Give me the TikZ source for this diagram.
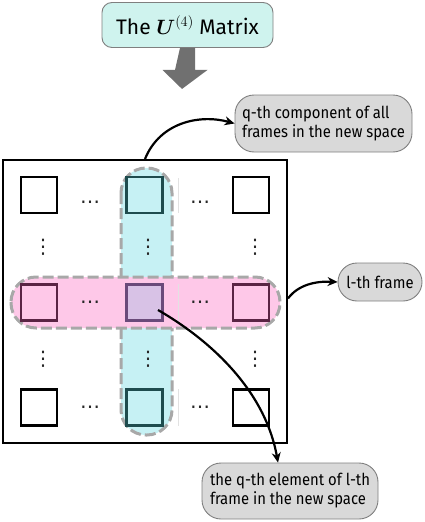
\documentclass[tikz,border=0pt]{standalone}
\usepackage{amsmath,bm}
\usepackage{fontspec}
\setmainfont{Fira Sans}[FakeStretch=0.9]
\newfontfamily\titlefont{Fira Sans}
\newfontfamily\dotsfont{DejaVu Sans}
\usetikzlibrary{calc,arrows.meta}
\definecolor{titlefill}{HTML}{CFF3EE}
\definecolor{cyanband}{HTML}{C6F1F4}
\definecolor{pinkband}{HTML}{FEC8E8}
\definecolor{lavender}{HTML}{D8C2E6}
\definecolor{tealedge}{HTML}{1E4C4E}
\definecolor{maroonedge}{HTML}{5A2444}
\definecolor{purpleedge}{HTML}{6A4A7A}
\definecolor{labelfill}{HTML}{D9D9D9}
\definecolor{labeledge}{HTML}{7F7F7F}
\definecolor{blockgray}{HTML}{707070}
\definecolor{dashgray}{HTML}{A8A8A8}
\definecolor{faint}{HTML}{E2E2E2}
\tikzset{
  cell/.style={draw=black, line width=2.4pt, minimum size=36pt, inner sep=0pt},
  band/.style={draw=dashgray, line width=3pt, dash pattern=on 11pt off 4pt, rounded corners=25pt},
  lab/.style={draw=labeledge, fill=labelfill, line width=0.9pt, rounded corners=19pt, align=left, inner sep=0pt, font=\fontsize{16.5}{19}\selectfont},
  conn/.style={line width=2.2pt, -{Stealth[length=10pt,width=9pt]}},
  hdots/.style={inner sep=0pt, text=black!85, font=\dotsfont\fontsize{20}{20}\selectfont},
}
\begin{document}
\begin{tikzpicture}[x=1pt,y=-1pt]
\useasboundingbox (0,0) rectangle (424,522);
% title
\node[draw=labeledge, fill=titlefill, line width=0.9pt, rounded corners=10pt, minimum width=171pt, minimum height=45pt, inner sep=0pt, font=\titlefont\fontsize{21}{24}\selectfont] (title) at (187.5,25) {The $\boldsymbol{U}^{(4)}$ Matrix};
% block arrow
\fill[blockgray] ($(title.south)+(-7.5,0)$) -- ++(15,0) -- ++(0,22) -- ++(12.5,0) -- ($(title.south)+(-5.5,41)$) -- ++(-19.5,-19) -- ++(12.5,0) -- cycle;
% main matrix frame
\node[draw=black, line width=2pt, minimum width=284pt, minimum height=283pt, inner sep=0pt] (mat) at (145,301.5) {};
% bands
\path[band, fill=cyanband] (121,168) rectangle (172,435);
\path[band, fill=pinkband] (11,277) rectangle (280,328);
% faint grid lines
\draw[faint, line width=0.6pt] (178,178) -- (178,213);
\draw[faint, line width=0.6pt] (178,284) -- (178,321);
\draw[faint, line width=0.6pt] (178,389) -- (178,426);
% cells
\node[cell] (s11) at (39,195) {};
\node[cell, draw=tealedge] (s12) at (144.5,195) {};
\node[cell] (s13) at (251,195) {};
\node[cell, draw=maroonedge] (s31) at (39,302.5) {};
\node[cell, draw=purpleedge, fill=lavender] (mid) at (144.5,302.5) {};
\node[cell, draw=maroonedge] (s33) at (251,302.5) {};
\node[cell] (s51) at (39,407.5) {};
\node[cell, draw=tealedge] (s52) at (144.5,407.5) {};
\node[cell] (s53) at (251,407.5) {};
% dots
\node[hdots] (h11) at (90,205) {⋯};
\node[hdots] (h12) at (200,205) {⋯};
\node[hdots] (h31) at (90,305) {⋯};
\node[hdots] (h32) at (200,305) {⋯};
\node[hdots] (h51) at (90,410) {⋯};
\node[hdots] (h52) at (200,410) {⋯};
\node[hdots] (v21) at (43,247) {⋮};
\node[hdots] (v22) at (148,247) {⋮};
\node[hdots] (v23) at (255,247) {⋮};
\node[hdots] (v41) at (43,359) {⋮};
\node[hdots] (v42) at (148,359) {⋮};
\node[hdots] (v43) at (255,359) {⋮};
% labels
\node[lab, minimum width=177pt, minimum height=57pt] (lq) at (323.5,123.5) {q-th component of all\\frames in the new space};
\node[lab, minimum width=84pt, minimum height=38pt] (ll) at (380,282) {l-th frame};
\node[lab, minimum width=176pt, minimum height=56pt] (le) at (290,491) {the q-th element of l-th\\frame in the new space};
% connectors
\draw[conn] (mat.north) .. controls (160,122) and (200,114) .. (lq.west);
\draw[conn] ($(mat.east)+(0,-3)$) .. controls (298,285) and (315,281) .. (ll.west);
\draw[conn] ($(mid.center)+(13.5,7.5)$) .. controls (210,340) and (265,390) .. ($(le.north)+(-12,0)$);
\end{tikzpicture}
\end{document}
